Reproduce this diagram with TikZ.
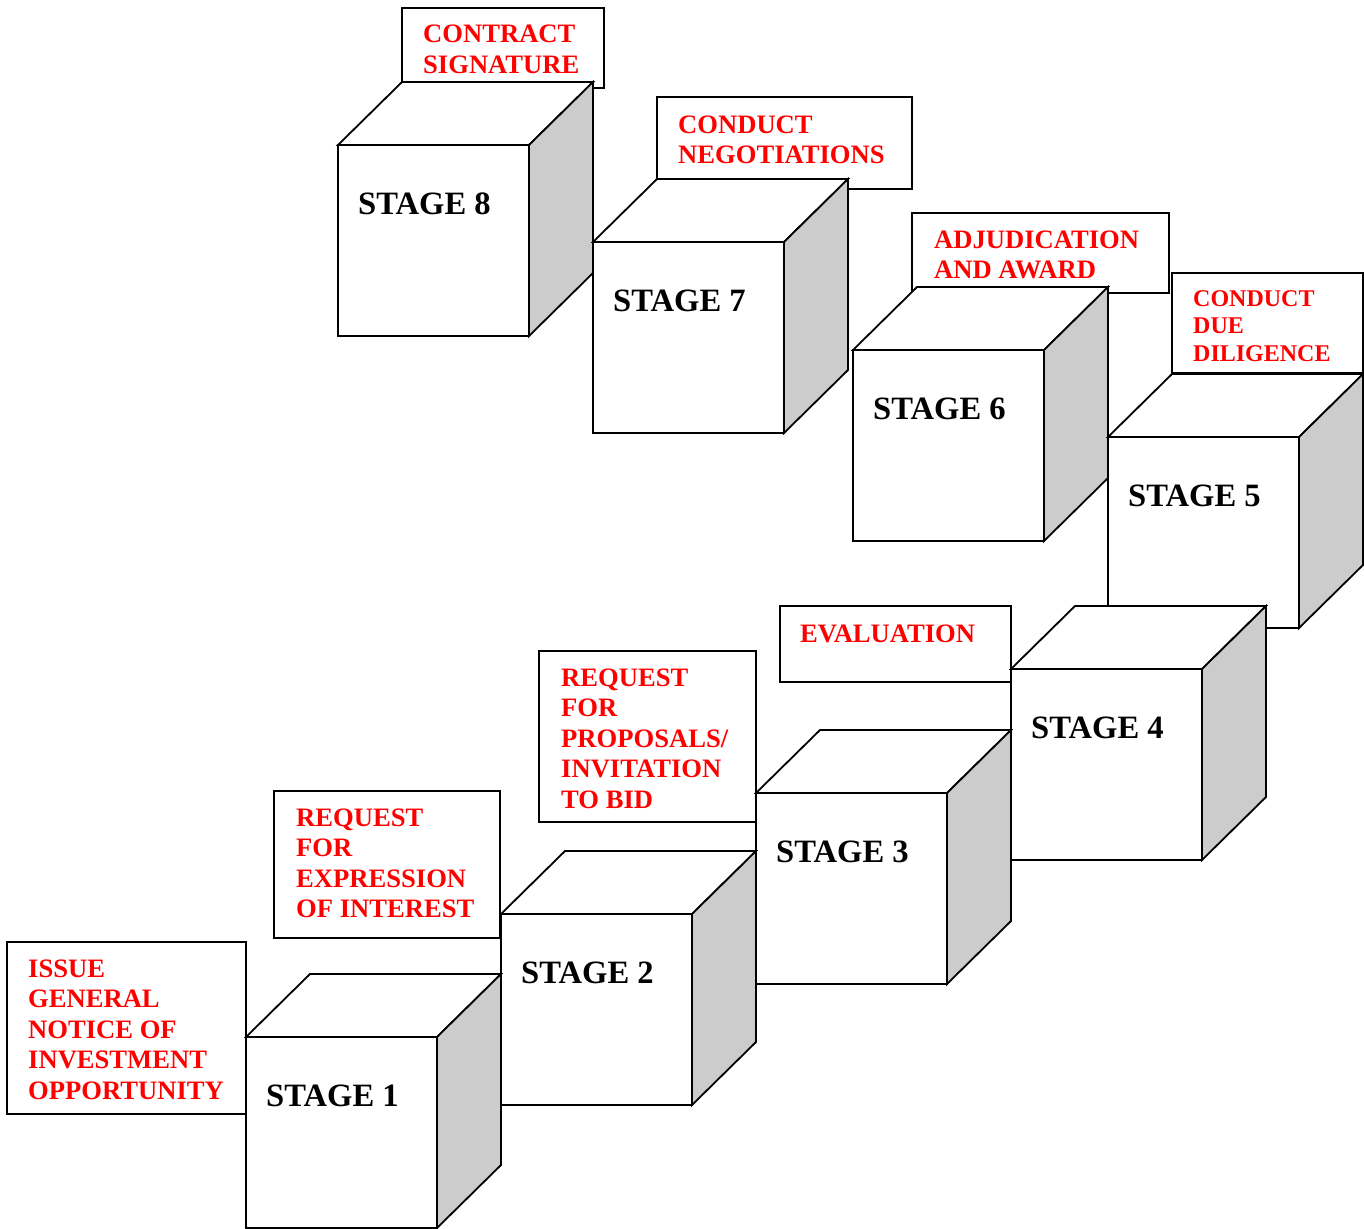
\documentclass[tikz,border=0pt]{standalone}
\usepackage{fontspec}
\setmainfont{Liberation Serif}
\definecolor{sidegray}{HTML}{CCCCCC}
\definecolor{labelred}{HTML}{FF0000}

% A stage cube: front face top-left corner at (#1,#2), stage number #3
\newcommand\stagecube[3]{%
  \begin{scope}[shift={(#1,#2)}]
    \filldraw[face] (0,0) rectangle (191,191);
    \filldraw[face] (0,0) -- (64,-63) -- (255,-63) -- (191,0) -- cycle;
    \filldraw[side] (191,0) -- (255,-63) -- (255,128) -- (191,191) -- cycle;
    \node[stagetext] (stage#3) at (20,69) {STAGE #3};
  \end{scope}}

% A caption box with red multi-line text
\newcommand\capbox[8]{% name, x1, y1, x2, y2, text x, first baseline, lines
  \filldraw[face] (#2,#3) rectangle (#4,#5);
  \node[captext] (#1) at (#6,#7)
    {\begin{tabular}[t]{@{}l@{}}#8\end{tabular}};}

\tikzset{
  face/.style={draw=black, fill=white, line width=1.8pt},
  side/.style={draw=black, fill=sidegray, line width=1.8pt},
  stagetext/.style={anchor=base west, inner sep=0pt,
    font=\fontsize{32.6}{36}\selectfont\bfseries},
  captext/.style={anchor=base west, inner sep=0pt, text=labelred,
    font=\fontsize{26.6}{30.5}\selectfont\bfseries},
  smallcap/.style={font=\fontsize{24}{27.5}\selectfont\bfseries}
}

\begin{document}
\begin{tikzpicture}[x=1pt, y=-1pt]
  \useasboundingbox (0,0) rectangle (1364,1228);

  % caption boxes (behind the cubes)
  \capbox{cap8}{402}{8}{604}{88}{423}{43}{CONTRACT\\SIGNATURE}
  \capbox{cap7}{657}{97}{912}{189}{678}{133}{CONDUCT\\NEGOTIATIONS}
  \capbox{cap6}{912}{213}{1169}{293}{934}{248}{ADJUDICATION\\AND AWARD}
  \filldraw[face] (1172,273) rectangle (1363,373);
  \node[captext, smallcap] (cap5) at (1193,306)
    {\begin{tabular}[t]{@{}l@{}}CONDUCT\\DUE\\DILIGENCE\end{tabular}};
  \capbox{cap4}{780}{606}{1011}{682}{800}{642}{EVALUATION}
  \capbox{cap3}{539}{651}{756}{822}{561}{686}{REQUEST\\FOR\\PROPOSALS/\\INVITATION\\TO BID}
  \capbox{cap2}{274}{791}{500}{938}{296}{826}{REQUEST\\FOR\\EXPRESSION\\OF INTEREST}
  \capbox{cap1}{7}{942}{246}{1114}{28}{977}{ISSUE\\GENERAL\\NOTICE OF\\INVESTMENT\\OPPORTUNITY}

  % the eight stage cubes
  \stagecube{338}{145}{8}
  \stagecube{593}{242}{7}
  \stagecube{853}{350}{6}
  \stagecube{1108}{437}{5}
  \stagecube{1011}{669}{4}
  \stagecube{756}{793}{3}
  \stagecube{501}{914}{2}
  \stagecube{246}{1037}{1}
\end{tikzpicture}
\end{document}
